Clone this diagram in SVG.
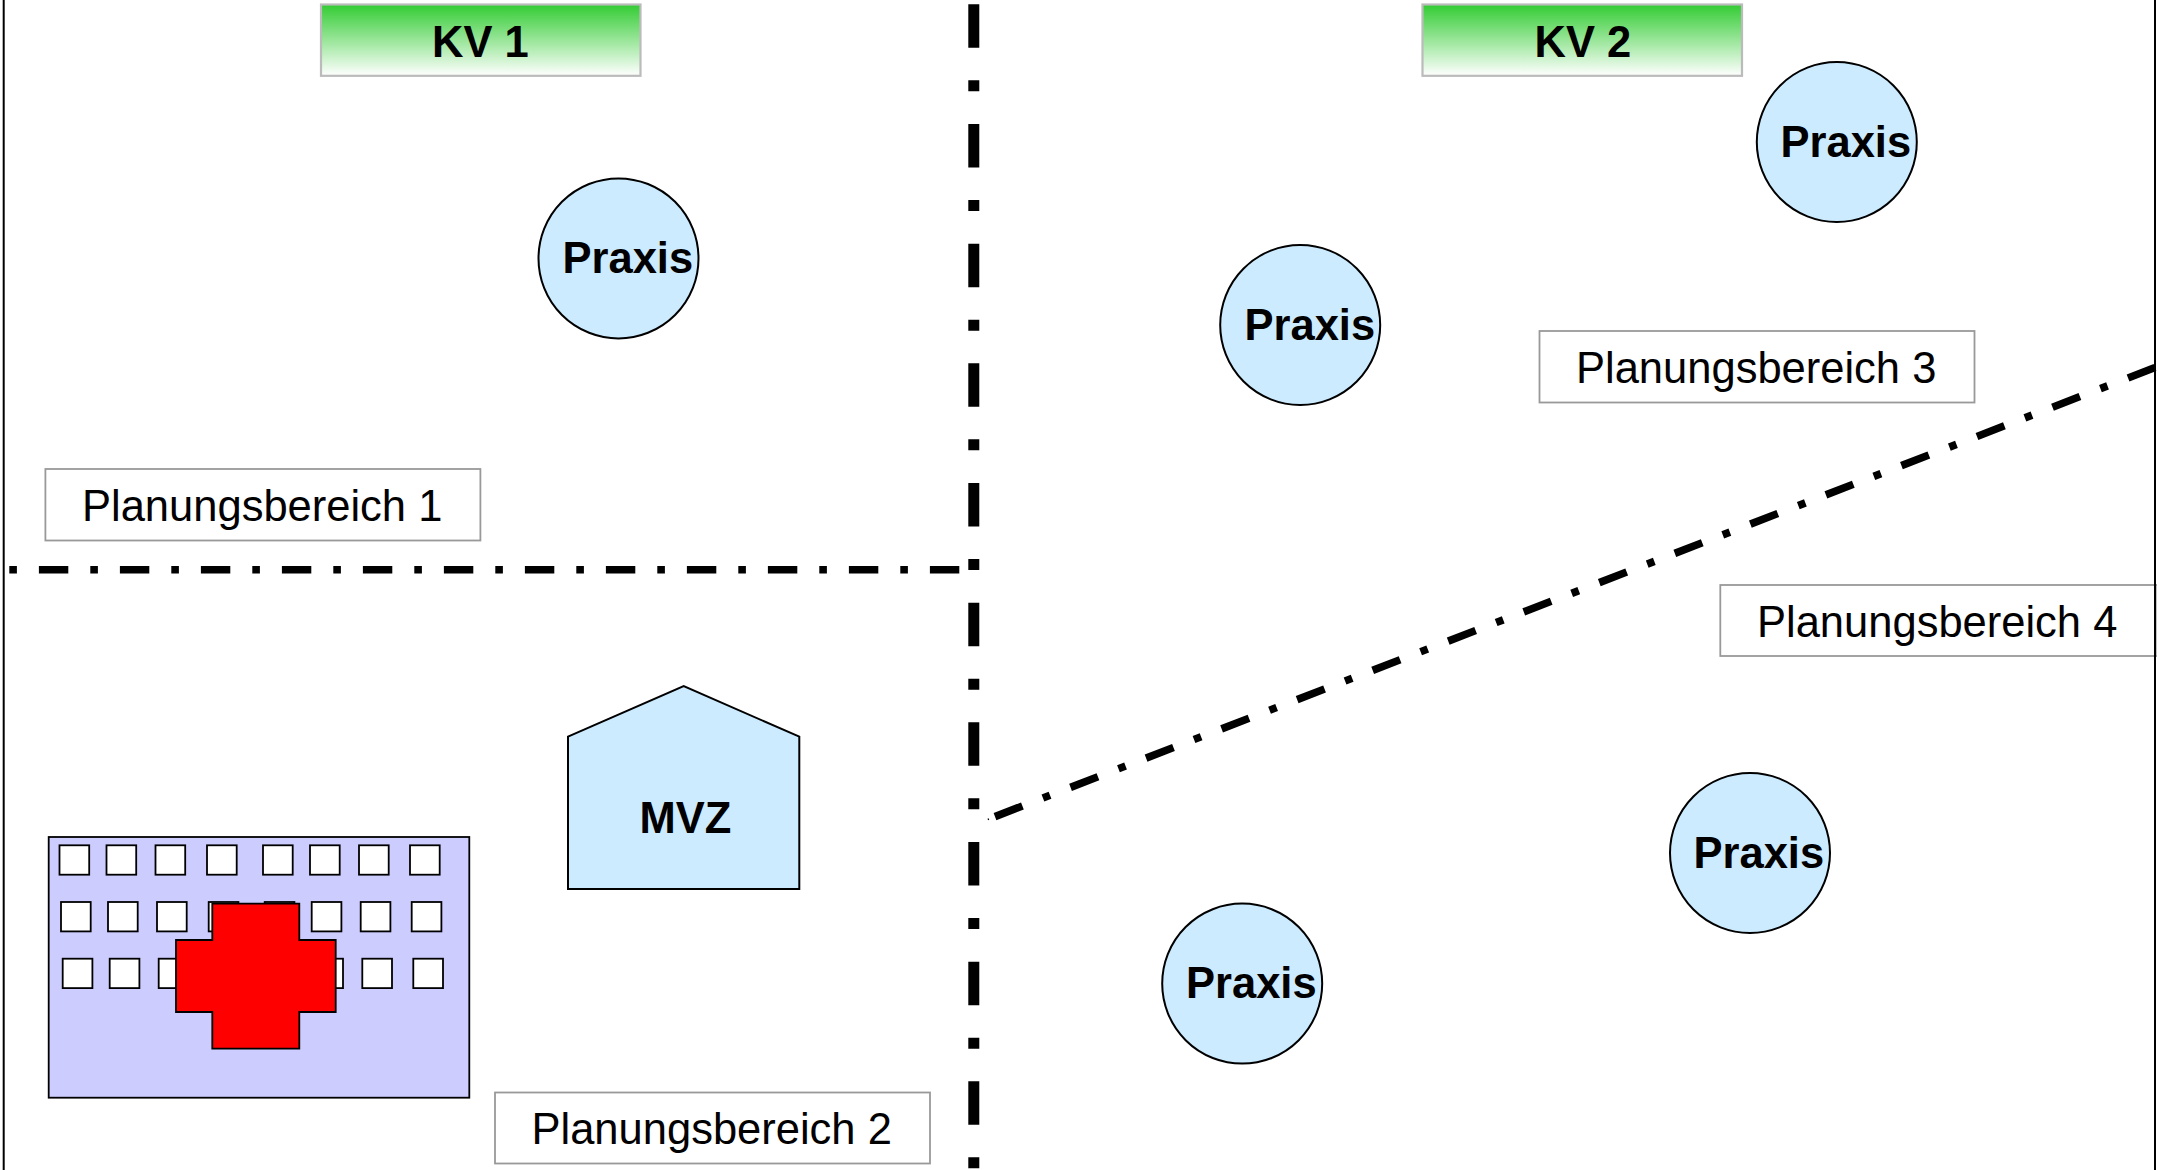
<svg xmlns="http://www.w3.org/2000/svg" width="2157" height="1170" viewBox="0 0 2157 1170">
<style>
text{font-family:"Liberation Sans",Arial,sans-serif;font-size:43.5px;fill:#000}
.b{font-weight:700}
.c{fill:#ccebff;stroke:#000;stroke-width:2}
.pb{fill:#fff;stroke:#999;stroke-width:1.8}
.kv{fill:url(#g);stroke:#bbb;stroke-width:2.2}
.w{fill:#fff;stroke:#000;stroke-width:1.8}
.v{fill:none;stroke:#000;stroke-width:11;stroke-dasharray:43.5 32.5 11 32.67}
.h{fill:none;stroke:#000;stroke-width:7.6;stroke-dasharray:7.6 22 29.4 22}
.d{fill:none;stroke:#000;stroke-width:7.6;stroke-dasharray:29.4 22 7.6 22}
</style>
<defs><linearGradient id="g" x1="0" y1="0" x2="0" y2="1"><stop offset="0" stop-color="#33cc33"/><stop offset="1" stop-color="#fff"/></linearGradient></defs>
<rect width="2157" height="1170" fill="#fff"/>
<g id="borders"><line x1="3.7" y1="0" x2="3.7" y2="1170" stroke="#000" stroke-width="2"/></g>
<g id="connectors">
<line class="v" x1="973.8" y1="4.3" x2="973.8" y2="1170"/>
<line class="h" x1="9.3" y1="569.8" x2="959.5" y2="569.8"/>
<line class="d" x1="995" y1="816.6" x2="2155" y2="367.5"/>
<line x1="987.8" y1="819.6" x2="988.9" y2="819.1" stroke="#000" stroke-width="1.6"/>
</g>
<g id="kv1"><rect class="kv" x="321" y="4.5" width="319.5" height="71.3"/><text class="b" x="432" y="56.7">KV 1</text></g>
<g id="kv2"><rect class="kv" x="1422.5" y="4.5" width="319.5" height="71.3"/><text class="b" x="1534.5" y="56.7">KV 2</text></g>
<g id="praxis1"><circle class="c" cx="618.5" cy="258.4" r="80"/><text class="b" x="562.5" y="272.7">Praxis</text></g>
<g id="praxis2"><circle class="c" cx="1300.2" cy="325" r="80"/><text class="b" x="1244.5" y="339.5">Praxis</text></g>
<g id="praxis3"><circle class="c" cx="1836.8" cy="142" r="80"/><text class="b" x="1780.5" y="156.7">Praxis</text></g>
<g id="praxis4"><circle class="c" cx="1750" cy="853" r="80"/><text class="b" x="1693.5" y="867.5">Praxis</text></g>
<g id="praxis5"><circle class="c" cx="1242.2" cy="983.6" r="80"/><text class="b" x="1186" y="997.5">Praxis</text></g>
<g id="pb1"><rect class="pb" x="45.4" y="469" width="435" height="71.5"/><text x="82" y="521">Planungsbereich 1</text></g>
<g id="pb2"><rect class="pb" x="495" y="1092.5" width="435" height="71"/><text x="531.5" y="1144">Planungsbereich 2</text></g>
<g id="pb3"><rect class="pb" x="1539.5" y="331" width="435" height="71.5"/><text x="1576" y="382.7">Planungsbereich 3</text></g>
<g id="pb4"><rect class="pb" x="1720.3" y="585" width="437" height="71"/><text x="1757" y="636.7">Planungsbereich 4</text></g>
<g id="border-right"><line x1="2155" y1="0" x2="2155" y2="1170" stroke="#000" stroke-width="2"/></g>
<g id="mvz"><polygon class="c" points="568,736.7 683.7,686 799.3,736.7 799.3,889 568,889"/><text class="b" x="639.5" y="832.7">MVZ</text></g>
<g id="hospital">
<rect x="48.7" y="837" width="420.6" height="260.7" fill="#ccf" stroke="#000" stroke-width="1.8"/>
<g id="windows">
<rect class="w" x="59.5" y="845.3" width="29.7" height="29.4"/><rect class="w" x="106.5" y="845.3" width="29.7" height="29.4"/><rect class="w" x="155.5" y="845.3" width="29.7" height="29.4"/><rect class="w" x="207" y="845.3" width="29.7" height="29.4"/><rect class="w" x="263" y="845.3" width="29.7" height="29.4"/><rect class="w" x="310" y="845.3" width="29.7" height="29.4"/><rect class="w" x="359" y="845.3" width="29.7" height="29.4"/><rect class="w" x="410" y="845.3" width="29.7" height="29.4"/>
<rect class="w" x="61" y="902" width="29.7" height="29.4"/><rect class="w" x="108" y="902" width="29.7" height="29.4"/><rect class="w" x="157" y="902" width="29.7" height="29.4"/><rect class="w" x="208.7" y="902" width="29.7" height="29.4"/><rect class="w" x="264.7" y="902" width="29.7" height="29.4"/><rect class="w" x="311.7" y="902" width="29.7" height="29.4"/><rect class="w" x="360.7" y="902" width="29.7" height="29.4"/><rect class="w" x="411.7" y="902" width="29.7" height="29.4"/>
<rect class="w" x="62.7" y="958.7" width="29.7" height="29.4"/><rect class="w" x="109.7" y="958.7" width="29.7" height="29.4"/><rect class="w" x="158.7" y="958.7" width="29.7" height="29.4"/><rect class="w" x="210.3" y="958.7" width="29.7" height="29.4"/><rect class="w" x="266.3" y="958.7" width="29.7" height="29.4"/><rect class="w" x="313.3" y="958.7" width="29.7" height="29.4"/><rect class="w" x="362.3" y="958.7" width="29.7" height="29.4"/><rect class="w" x="413.3" y="958.7" width="29.7" height="29.4"/>
</g>
<polygon points="212.3,903.7 299.3,903.7 299.3,940 335.7,940 335.7,1012 299.3,1012 299.3,1048.7 212.3,1048.7 212.3,1012 176,1012 176,940 212.3,940" fill="#f00" stroke="#000" stroke-width="1.8"/>
</g>
</svg>
